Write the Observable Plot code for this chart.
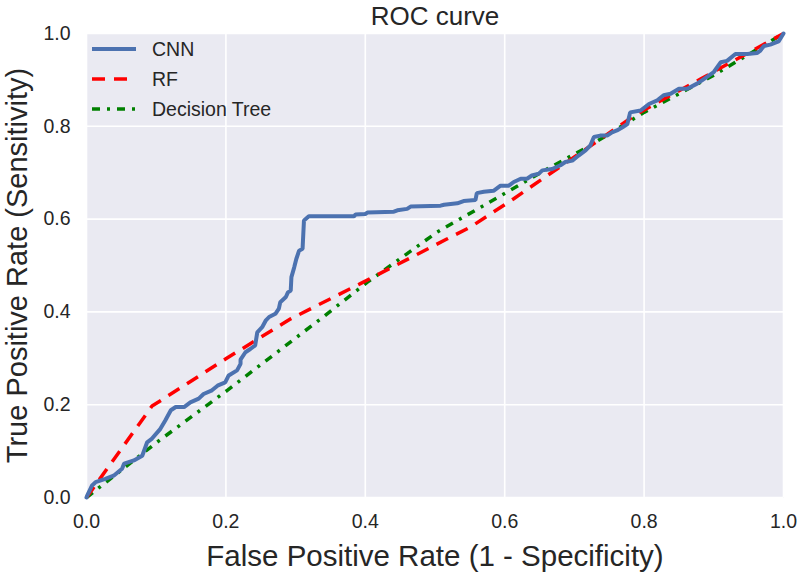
<!DOCTYPE html>
<html>
<head>
<meta charset="utf-8">
<script src="https://cdn.jsdelivr.net/npm/d3@7"></script>
<script src="https://cdn.jsdelivr.net/npm/@observablehq/plot@0.6"></script>
<style>
  html, body { margin: 0; padding: 0; background: #fff; overflow: hidden; }
  #wrap { position: relative; width: 800px; height: 573px; font-family: "Liberation Sans", Arial, sans-serif; }
  #legend { position: absolute; left: 92px; top: 34px; }
  .row { display: flex; align-items: center; height: 30px; }
  .row svg { margin-right: 16px; }
  .row span { font-size: 19.5px; color: #262626; }
</style>
</head>
<body>
<div id="wrap"></div>
<script>
// ---- data ----
const titleText = "ROC curve";
const xLabelText = "False Positive Rate (1 - Specificity)";
const yLabelText = "True Positive Rate (Sensitivity)";
const xTicks = [0, 0.2, 0.4, 0.6, 0.8, 1.0];
const xTickLabels = ["0.0", "0.2", "0.4", "0.6", "0.8", "1.0"];
const yTicks = [0, 0.2, 0.4, 0.6, 0.8, 1.0];
const yTickLabels = ["0.0", "0.2", "0.4", "0.6", "0.8", "1.0"];
const seriesNames = ["CNN", "RF", "Decision Tree"];
const seriesColors = ["#4C72B0", "#FF0000", "#008000"];

const cnnFpr = [0, 0.001, 0.008, 0.013, 0.027, 0.039, 0.051, 0.054, 0.068, 0.080, 0.087, 0.094, 0.106, 0.113, 0.121, 0.128, 0.140, 0.149, 0.161, 0.168, 0.180, 0.188, 0.199, 0.204, 0.216, 0.221, 0.221, 0.228, 0.235, 0.242, 0.245, 0.252, 0.257, 0.262, 0.271, 0.276, 0.278, 0.286, 0.289, 0.293, 0.294, 0.298, 0.301, 0.305, 0.310, 0.312, 0.319, 0.384, 0.386, 0.400, 0.403, 0.441, 0.446, 0.460, 0.465, 0.508, 0.513, 0.532, 0.541, 0.558, 0.560, 0.570, 0.584, 0.594, 0.606, 0.613, 0.623, 0.632, 0.639, 0.649, 0.654, 0.668, 0.680, 0.687, 0.697, 0.706, 0.716, 0.723, 0.728, 0.737, 0.747, 0.754, 0.761, 0.769, 0.776, 0.780, 0.795, 0.807, 0.819, 0.828, 0.838, 0.850, 0.862, 0.876, 0.883, 0.900, 0.910, 0.919, 0.931, 0.948, 0.962, 0.966, 0.972, 0.981, 0.993, 1.0];
const cnnTpr = [0, 0.004, 0.026, 0.033, 0.040, 0.047, 0.062, 0.073, 0.080, 0.090, 0.119, 0.127, 0.148, 0.166, 0.188, 0.195, 0.195, 0.205, 0.213, 0.223, 0.231, 0.241, 0.248, 0.263, 0.274, 0.288, 0.297, 0.313, 0.320, 0.328, 0.356, 0.367, 0.381, 0.389, 0.396, 0.407, 0.421, 0.432, 0.442, 0.446, 0.475, 0.496, 0.514, 0.532, 0.536, 0.597, 0.606, 0.606, 0.610, 0.611, 0.614, 0.616, 0.619, 0.622, 0.627, 0.629, 0.631, 0.634, 0.639, 0.641, 0.656, 0.659, 0.661, 0.672, 0.672, 0.680, 0.687, 0.687, 0.694, 0.698, 0.705, 0.708, 0.716, 0.723, 0.726, 0.737, 0.748, 0.759, 0.777, 0.780, 0.780, 0.787, 0.791, 0.798, 0.805, 0.830, 0.834, 0.848, 0.856, 0.867, 0.870, 0.881, 0.881, 0.892, 0.899, 0.917, 0.938, 0.941, 0.956, 0.956, 0.958, 0.962, 0.973, 0.976, 0.983, 1.0];

const rfFpr = [0, 0.094, 0.200, 0.293, 0.393, 0.517, 0.551, 0.613, 0.699, 0.790, 0.881, 1.0];
const rfTpr = [0, 0.197, 0.299, 0.385, 0.461, 0.557, 0.583, 0.644, 0.733, 0.827, 0.902, 1.0];

const dtFpr = [0, 0.101, 0.202, 0.336, 0.403, 0.503, 0.608, 0.649, 0.723, 0.800, 0.900, 1.0];
const dtTpr = [0, 0.119, 0.231, 0.385, 0.464, 0.572, 0.662, 0.698, 0.759, 0.830, 0.910, 1.0];

// ---- build tables ----
const toRows = (xs, ys) => xs.map((x, i) => ({x, y: ys[i]}));
const cnn = toRows(cnnFpr, cnnTpr);
const rf = toRows(rfFpr, rfTpr);
const dt = toRows(dtFpr, dtTpr);

const styles = [
  {strokeWidth: 4, dash: null},
  {strokeWidth: 3.5, dash: "13,9"},
  {strokeWidth: 3.5, dash: "8,7,3,7"}
];

const font = "'Liberation Sans', Arial, sans-serif";
const ink = "#262626";

const chart = Plot.plot({
  width: 800,
  height: 573,
  marginLeft: 86,
  marginRight: 17,
  marginTop: 33,
  marginBottom: 76,
  style: {fontFamily: font, background: "white", color: ink, overflow: "visible"},
  x: {domain: [0, 1], axis: null},
  y: {domain: [0, 1], axis: null},
  marks: [
    Plot.frame({fill: "#EAEAF2", stroke: null}),
    Plot.gridX(xTicks, {stroke: "white", strokeOpacity: 1, strokeWidth: 1.6}),
    Plot.gridY(yTicks, {stroke: "white", strokeOpacity: 1, strokeWidth: 1.6}),
    Plot.axisX(xTicks, {tickSize: 0, tickPadding: 17, fontSize: 19.5, label: null, fill: ink,
      tickFormat: d => xTickLabels[xTicks.indexOf(d)]}),
    Plot.axisY(yTicks, {tickSize: 0, tickPadding: 16, fontSize: 19.5, label: null, fill: ink,
      tickFormat: d => yTickLabels[yTicks.indexOf(d)]}),
    Plot.line(dt, {x: "x", y: "y", stroke: seriesColors[2], strokeWidth: styles[2].strokeWidth, strokeDasharray: styles[2].dash, strokeLinecap: "butt"}),
    Plot.line(rf, {x: "x", y: "y", stroke: seriesColors[1], strokeWidth: styles[1].strokeWidth, strokeDasharray: styles[1].dash, strokeLinecap: "butt"}),
    Plot.line(cnn, {x: "x", y: "y", stroke: seriesColors[0], strokeWidth: styles[0].strokeWidth, strokeLinejoin: "miter"}),
    Plot.text([titleText], {text: d => d, frameAnchor: "top", textAnchor: "middle", lineAnchor: "bottom", dy: -9, fontSize: 26, fill: ink}),
    Plot.text([xLabelText], {text: d => d, frameAnchor: "bottom", textAnchor: "middle", lineAnchor: "bottom", dy: 68, fontSize: 29.5, fill: ink}),
    Plot.text([yLabelText], {text: d => d, frameAnchor: "left", textAnchor: "middle", lineAnchor: "bottom", rotate: -90, dx: -60, fontSize: 29, fill: ink})
  ]
});

const wrap = document.getElementById("wrap");
wrap.appendChild(chart);

// ---- legend ----
const legend = document.createElement("div");
legend.id = "legend";
seriesNames.forEach((name, i) => {
  const row = document.createElement("div");
  row.className = "row";
  const ns = "http://www.w3.org/2000/svg";
  const svg = document.createElementNS(ns, "svg");
  svg.setAttribute("width", 44);
  svg.setAttribute("height", 10);
  const line = document.createElementNS(ns, "line");
  line.setAttribute("x1", 0); line.setAttribute("x2", 44);
  line.setAttribute("y1", 5); line.setAttribute("y2", 5);
  line.setAttribute("stroke", seriesColors[i]);
  line.setAttribute("stroke-width", styles[i].strokeWidth);
  if (styles[i].dash) line.setAttribute("stroke-dasharray", styles[i].dash);
  else line.setAttribute("stroke-linecap", "round");
  svg.appendChild(line);
  const label = document.createElement("span");
  label.textContent = name;
  row.appendChild(svg);
  row.appendChild(label);
  legend.appendChild(row);
});
wrap.appendChild(legend);
</script>
</body>
</html>
